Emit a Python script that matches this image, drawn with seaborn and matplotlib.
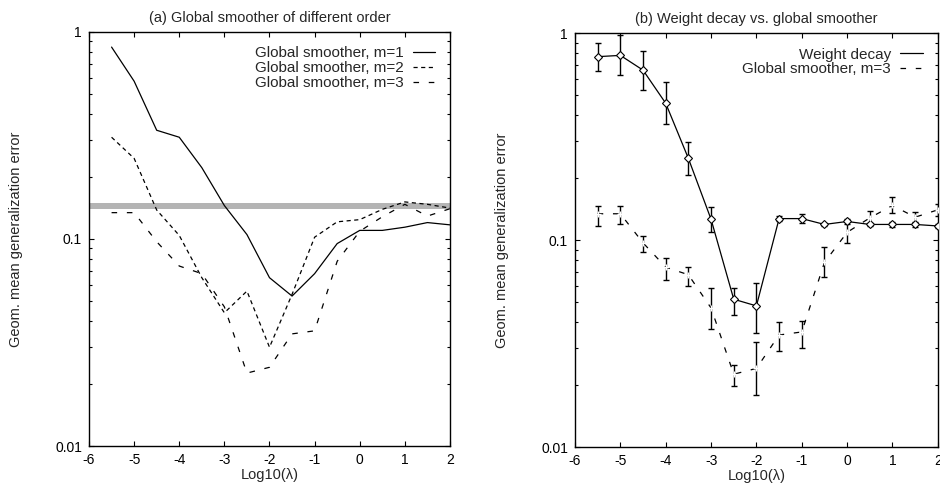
import numpy as np
import pandas as pd
import matplotlib
matplotlib.use("Agg")
import matplotlib.pyplot as plt
from matplotlib.lines import Line2D
from matplotlib import ticker
import seaborn as sns

# log10(lambda) grid shared by every curve
log_lambda = [-5.5, -5.0, -4.5, -4.0, -3.5, -3.0, -2.5, -2.0,
              -1.5, -1.0, -0.5, 0.0, 0.5, 1.0, 1.5, 2.0]

# (a) global smoother of different order
gs_m1 = [0.845, 0.578, 0.335, 0.310, 0.221, 0.145, 0.105, 0.065,
         0.053, 0.068, 0.095, 0.110, 0.110, 0.114, 0.120, 0.117]
gs_m2 = [0.310, 0.245, 0.138, 0.104, 0.065, 0.044, 0.056, 0.030,
         0.054, 0.102, 0.121, 0.124, 0.139, 0.151, 0.147, 0.141]
gs_m3 = [0.134, 0.134, 0.097, 0.074, 0.068, 0.047, 0.0225, 0.024,
         0.0348, 0.036, 0.078, 0.109, 0.128, 0.147, 0.129, 0.140]
gs_m3_low = [0.117, 0.120, 0.088, 0.0645, 0.060, 0.037, 0.0198, 0.0178,
             0.0292, 0.030, 0.066, 0.097, 0.119, 0.135, 0.121, 0.130]
gs_m3_high = [0.146, 0.146, 0.105, 0.0822, 0.074, 0.059, 0.0249, 0.0322,
              0.040, 0.0405, 0.093, 0.122, 0.138, 0.162, 0.137, 0.150]

# reference band in panel (a)
band_low, band_high = 0.140, 0.150

# (b) weight decay
wd = [0.769, 0.780, 0.662, 0.458, 0.248, 0.126, 0.0518, 0.0481,
      0.127, 0.127, 0.119, 0.123, 0.119, 0.119, 0.119, 0.117]
wd_low = [0.657, 0.625, 0.532, 0.363, 0.206, 0.110, 0.0436, 0.0354,
          0.123, 0.121, 0.117, 0.119, 0.117, 0.116, 0.116, 0.114]
wd_high = [0.894, 0.980, 0.823, 0.580, 0.298, 0.144, 0.0590, 0.0620,
           0.131, 0.133, 0.121, 0.127, 0.121, 0.122, 0.122, 0.120]

x_ticks = [-6, -5, -4, -3, -2, -1, 0, 1, 2]
y_ticks = [0.01, 0.1, 1]

sns.set_style("ticks")
plt.rcParams.update({
    "font.family": ["Liberation Sans", "DejaVu Sans"],
    "font.size": 10.5,
    "xtick.labelsize": 10,
    "ytick.labelsize": 10,
    "xtick.direction": "in",
    "ytick.direction": "in",
    "xtick.top": True,
    "ytick.right": True,
    "xtick.major.size": 3.5,
    "ytick.major.size": 3.5,
    "ytick.minor.size": 2.2,
    "xtick.major.width": 0.8,
    "ytick.major.width": 0.8,
    "ytick.minor.width": 0.8,
    "axes.linewidth": 1.0,
    "axes.edgecolor": "black",
    "axes.unicode_minus": False,
    "lines.scale_dashes": False,
})

DASH_M2 = (3, 2.5)
DASH_M3 = (4, 7)
LEG_KW = dict(loc="upper right", frameon=False, markerfirst=False,
              handlelength=1.5, handletextpad=0.6, labelspacing=0.05,
              borderaxespad=0.55, fontsize=11)


def style_axes(ax, title):
    ax.set_yscale("log")
    ax.set_xlim(-6, 2)
    ax.set_ylim(0.01, 1)
    ax.set_xticks(x_ticks)
    ax.set_yticks(y_ticks)
    ax.yaxis.set_major_formatter(ticker.FormatStrFormatter("%g"))
    ax.yaxis.set_minor_locator(ticker.LogLocator(base=10, subs=np.arange(2, 10)))
    ax.yaxis.set_minor_formatter(ticker.NullFormatter())
    ax.tick_params(axis="both", which="both", colors="black", pad=5)
    ax.set_title(title, fontsize=10.5, pad=7)
    ax.set_xlabel("Log10(λ)", labelpad=1)
    ax.set_ylabel("Geom. mean generalization error", labelpad=23)
    for s in ax.spines.values():
        s.set_visible(True)


def right_align(leg):
    # gnuplot-style key: texts flush right against the line samples
    for col in leg._legend_handle_box.get_children():
        col.align = "right"


fig = plt.figure(figsize=(9.4, 4.86), dpi=100)
ax1 = fig.add_axes([0.0947, 0.0823, 0.384, 0.852])
ax2 = fig.add_axes([0.6117, 0.0800, 0.386, 0.852])

# ---- panel (a)
ax1.axhspan(band_low, band_high, color="#b4b4b4", lw=0, zorder=1)
df_a = pd.DataFrame({
    "x": log_lambda * 3,
    "err": gs_m1 + gs_m2 + gs_m3,
    "series": (["Global smoother, m=1"] * len(log_lambda)
               + ["Global smoother, m=2"] * len(log_lambda)
               + ["Global smoother, m=3"] * len(log_lambda)),
})
sns.lineplot(data=df_a, x="x", y="err", style="series",
             dashes={"Global smoother, m=1": "",
                     "Global smoother, m=2": DASH_M2,
                     "Global smoother, m=3": DASH_M3},
             color="black", linewidth=0.9, legend=False, ax=ax1, zorder=3)
style_axes(ax1, "(a) Global smoother of different order")

handles_a = [Line2D([], [], color="black", lw=0.9),
             Line2D([], [], color="black", lw=0.9, dashes=DASH_M2),
             Line2D([], [], color="black", lw=0.9, dashes=DASH_M3)]
leg_a = ax1.legend(handles_a, ["Global smoother, m=1", "Global smoother, m=2",
                               "Global smoother, m=3"], **LEG_KW)
right_align(leg_a)

# ---- panel (b)
sns.lineplot(x=log_lambda, y=wd, color="black", linewidth=0.9,
             marker="D", markersize=3.8, markerfacecolor="white",
             markeredgecolor="black", markeredgewidth=0.8, ax=ax2, zorder=3)
sns.lineplot(x=log_lambda, y=gs_m3, color="black", linewidth=0.9,
             linestyle=(0, DASH_M3), marker="+", markersize=4,
             markeredgewidth=0.9, ax=ax2, zorder=3)
for vals, lo, hi in [(wd, wd_low, wd_high), (gs_m3, gs_m3_low, gs_m3_high)]:
    v = np.array(vals)
    yerr = [v - np.array(lo), np.array(hi) - v]
    ax2.errorbar(log_lambda, v, yerr=yerr, fmt="none", ecolor="black",
                 elinewidth=1.0, capsize=2, capthick=1.0, zorder=2)
style_axes(ax2, "(b) Weight decay vs. global smoother")

handles_b = [Line2D([], [], color="black", lw=0.9),
             Line2D([], [], color="black", lw=0.9, dashes=DASH_M3)]
leg_b = ax2.legend(handles_b, ["Weight decay", "Global smoother, m=3"], **LEG_KW)
right_align(leg_b)

fig.savefig("out.png", dpi=100)
